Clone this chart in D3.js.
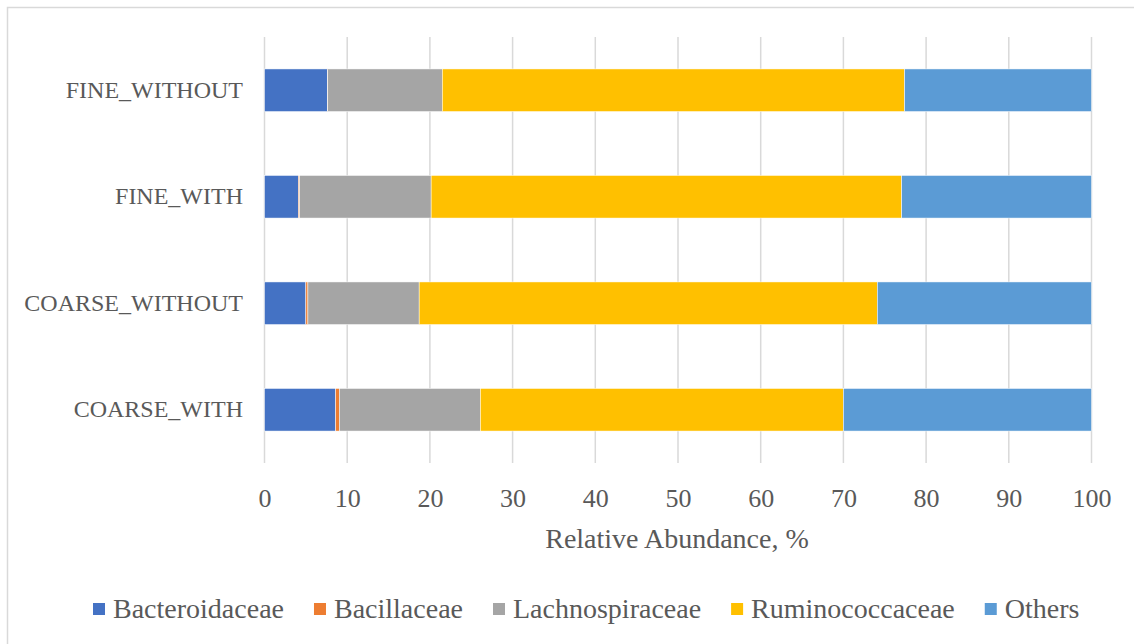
<!DOCTYPE html>
<html>
<head>
<meta charset="utf-8">
<script src="https://cdn.jsdelivr.net/npm/d3@7"></script>
<style>
  body { margin: 0; background: #fff; }
  svg, svg text { font-family: "Liberation Serif", "Times New Roman", Times, serif !important; fill: #595959; }
</style>
</head>
<body>
<svg width="1134" height="644"></svg>
<script>
// samples, top to bottom as drawn
var samples = ["FINE_WITHOUT", "FINE_WITH", "COARSE_WITHOUT", "COARSE_WITH"];

// families (stack order, left to right)
var families = ["Bacteroidaceae", "Bacillaceae", "Lachnospiraceae", "Ruminococcaceae", "Others"];

// relative abundance, % (same order as samples)
var bacteroidaceae  = [7.6, 4.1, 5.0, 8.6];
var bacillaceae     = [0.05, 0.15, 0.25, 0.45];
var lachnospiraceae = [13.85, 15.9, 13.45, 17.05];
var ruminococcaceae = [55.9, 56.9, 55.4, 43.9];
var others          = [22.6, 22.95, 25.9, 30.0];

var xTicks = [0, 10, 20, 30, 40, 50, 60, 70, 80, 90, 100];

var colors = ["#4472C4", "#ED7D31", "#A5A5A5", "#FFC000", "#5B9BD5"];

var serif = '"Liberation Serif", "Times New Roman", Times, serif';

//build rows for d3.stack
var series = [bacteroidaceae, bacillaceae, lachnospiraceae, ruminococcaceae, others];
var rows = samples.map(function(s, i) {
    var r = { sample: s };
    families.forEach(function(f, j) { r[f] = series[j][i]; });
    return r;
});

var svg = d3.select("svg");

//outer chart border
svg.append("rect")
    .attr("x", 7.5).attr("y", 7.5)
    .attr("width", 1140).attr("height", 650)
    .attr("fill", "none")
    .attr("stroke", "#d9d9d9")
    .attr("stroke-width", 1.5);

var x = d3.scaleLinear().domain([0, 100]).range([264.5, 1091.5]);
var y = d3.scaleBand().domain(samples).range([37, 463])
    .paddingInner(0.6).paddingOuter(0.3);

//vertical gridlines
svg.append("g")
    .selectAll("line")
    .data(xTicks)
    .enter().append("line")
    .attr("x1", d => x(d)).attr("x2", d => x(d))
    .attr("y1", 37).attr("y2", 463)
    .attr("stroke", "#d9d9d9")
    .attr("stroke-width", 1.5);

//stacked bars
var stacked = d3.stack().keys(families)(rows);

svg.append("g")
    .selectAll("g")
    .data(stacked)
    .enter().append("g")
    .attr("fill", (d, i) => colors[i])
    .selectAll("rect")
    .data(d => d)
    .enter().append("rect")
    .attr("x", d => x(d[0]))
    .attr("width", d => x(d[1]) - x(d[0]))
    .attr("y", d => y(d.data.sample))
    .attr("height", y.bandwidth())
    .attr("stroke", "#fff")
    .attr("stroke-width", 0.5);

//x axis tick labels
var xAxis = svg.append("g")
    .attr("transform", "translate(0,463)")
    .call(d3.axisBottom(x).tickValues(xTicks).tickSize(0).tickPadding(0));
xAxis.attr("font-family", serif);
xAxis.select(".domain").remove();
xAxis.selectAll("text")
    .attr("y", 44)
    .attr("dy", null)
    .style("font-family", serif)
    .style("font-size", "26px")
    .attr("fill", "#595959");

//category labels
var yAxis = svg.append("g")
    .attr("transform", "translate(243,0)")
    .call(d3.axisLeft(y).tickSize(0).tickPadding(0));
yAxis.attr("font-family", serif);
yAxis.select(".domain").remove();
yAxis.selectAll("text")
    .style("font-family", serif)
    .style("font-size", "24px")
    .attr("dy", "0.32em")
    .attr("fill", "#595959");

//axis title
svg.append("text")
    .attr("x", 677).attr("y", 548)
    .attr("text-anchor", "middle")
    .style("font-family", serif)
    .style("font-size", "28px")
    .text("Relative Abundance, %");

//legend
var legend = svg.append("g");
var lx = 93;
families.forEach(function(f, i) {
    legend.append("rect")
        .attr("x", lx).attr("y", 603)
        .attr("width", 12).attr("height", 12)
        .attr("fill", colors[i]);
    var t = legend.append("text")
        .attr("x", lx + 20).attr("y", 618)
        .style("font-family", serif)
        .style("font-size", "28px")
        .text(f);
    lx += 20 + t.node().getComputedTextLength() + 30;
});
</script>
</body>
</html>
